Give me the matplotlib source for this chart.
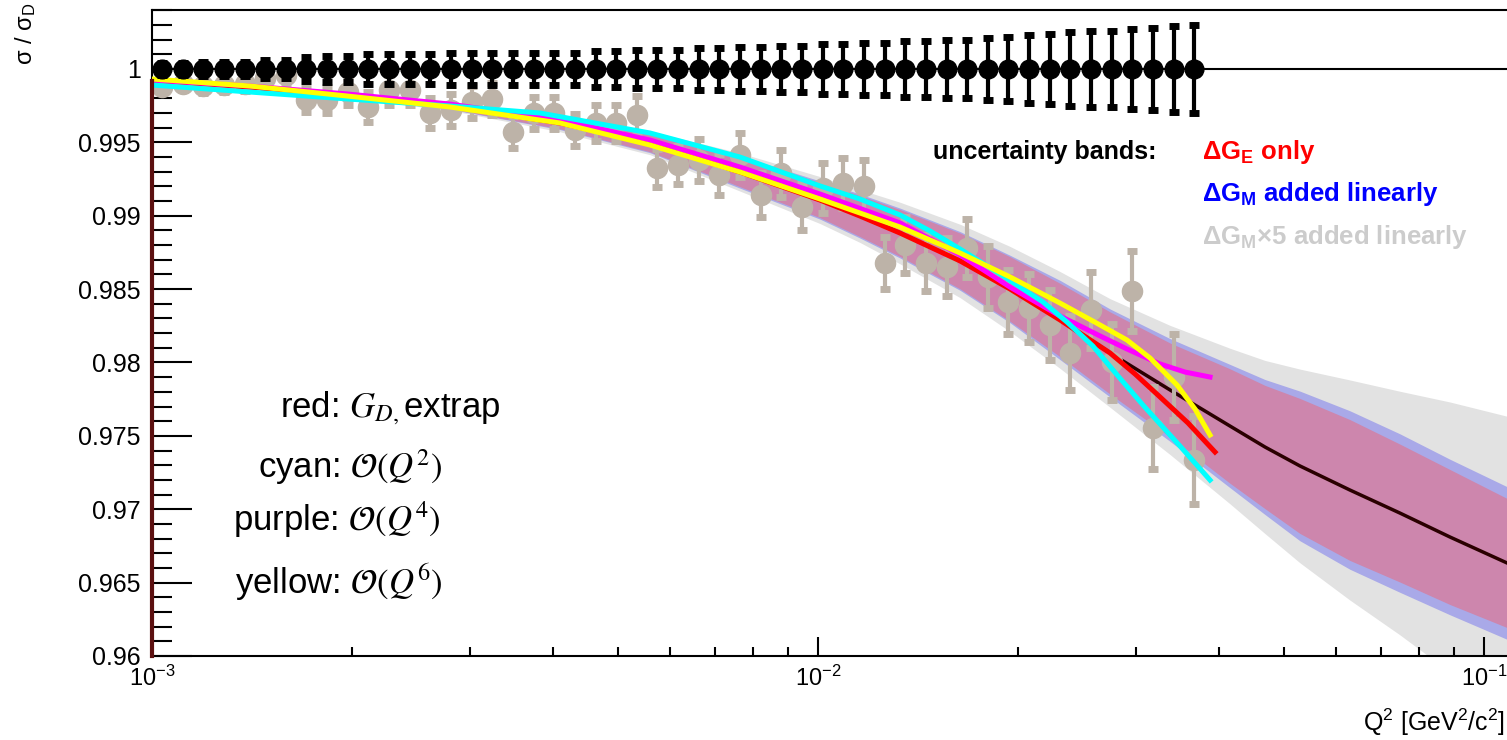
import matplotlib
matplotlib.use("Agg")
import matplotlib.pyplot as plt
from matplotlib.ticker import MultipleLocator, FixedLocator, FormatStrFormatter, LogLocator, NullFormatter

plt.rcParams['font.family'] = ['Liberation Sans', 'DejaVu Sans']
plt.rcParams['mathtext.fontset'] = 'custom'
plt.rcParams['mathtext.rm'] = 'Liberation Sans'
plt.rcParams['mathtext.it'] = 'Liberation Sans:italic'
plt.rcParams['mathtext.bf'] = 'Liberation Sans:bold'

# Q^2 bins of the pseudo data (GeV^2/c^2)
q2_bins = [0.001035, 0.001112, 0.001194, 0.001282, 0.001377, 0.001479, 0.001588, 0.001706,
           0.001832, 0.001968, 0.002113, 0.002270, 0.002438, 0.002618, 0.002812, 0.003020,
           0.003243, 0.003483, 0.003741, 0.004018, 0.004315, 0.004634, 0.004977, 0.005346,
           0.005741, 0.006166, 0.006622, 0.007112, 0.007638, 0.008204, 0.008811, 0.009463,
           0.01016, 0.01092, 0.01172, 0.01259, 0.01352, 0.01452, 0.01560, 0.01675,
           0.01799, 0.01932, 0.02075, 0.02229, 0.02394, 0.02571, 0.02761, 0.02965,
           0.03185, 0.03420, 0.03673]
err_data = [0.0004, 0.0004, 0.0005, 0.0005, 0.0005, 0.0006, 0.0006,
            0.0008, 0.0009, 0.0009, 0.0010, 0.0010, 0.0010, 0.0010, 0.0011, 0.0011, 0.0011,
            0.0011, 0.0011, 0.0011,
            0.0011, 0.0012, 0.0012, 0.0013, 0.0013, 0.0013, 0.0014, 0.0014, 0.0015, 0.0015,
            0.0016, 0.0016, 0.0017, 0.0017, 0.0018, 0.0018, 0.0019, 0.0019, 0.0020, 0.0020, 0.0021,
            0.0022, 0.0023, 0.0024, 0.0025, 0.0026, 0.0026, 0.0027, 0.0028, 0.0029, 0.0030]
ratio_ref = [1.0] * len(q2_bins)
ratio_pseudo = [0.99877, 0.99898, 0.99884, 0.99890, 0.99898, 0.99939, 0.99959, 0.99789,
                0.99789, 0.99843, 0.99741, 0.99857, 0.99857, 0.99700, 0.99720, 0.99775,
                0.99796, 0.99571, 0.99700, 0.99700, 0.99584, 0.99632, 0.99632, 0.99687,
                0.99325, 0.99346, 0.99380, 0.99278, 0.99414, 0.99141, 0.99291, 0.99060,
                0.99189, 0.99223, 0.99203, 0.98678, 0.98801, 0.98678, 0.98651, 0.98780,
                0.98583, 0.98412, 0.98371, 0.98256, 0.98065, 0.98358, 0.98003, 0.98487,
                0.97554, 0.97901, 0.97336]

# central G_D curve and uncertainty bands (half widths)
q2_c = [0.001, 0.0014034, 0.0019628, 0.0028023, 0.0040993, 0.0055937, 0.007636, 0.010069,
        0.011562, 0.013282, 0.016344, 0.019423, 0.023088, 0.027445, 0.033772, 0.041555,
        0.046905, 0.052925, 0.062907, 0.074777, 0.088883, 0.10828]
ratio_c = [0.99925, 0.99877, 0.99823, 0.99748, 0.99632, 0.99496, 0.99298, 0.99107,
           0.98998, 0.98882, 0.98692, 0.98501, 0.98290, 0.98065, 0.97813, 0.97567,
           0.97424, 0.97295, 0.97131, 0.96974, 0.96811, 0.96634]
band_ge = [0.00003, 0.00008, 0.00014, 0.0002, 0.0004, 0.0006, 0.0010, 0.0012, 0.0014, 0.0016, 0.0019,
           0.0022, 0.0025, 0.0028, 0.0032, 0.0039, 0.0042, 0.0046, 0.0048, 0.0047, 0.0046, 0.0044]
band_gm = [0.00004, 0.0001, 0.00016, 0.00023, 0.00045, 0.00066, 0.0011, 0.0013, 0.0015, 0.0017, 0.0020,
           0.0023, 0.0027, 0.0030, 0.0035, 0.0042, 0.0046, 0.0051, 0.0054, 0.0054, 0.0053, 0.0052]
band_gm5 = [0.00006, 0.00013, 0.0002, 0.0003, 0.0006, 0.0008, 0.0013, 0.0016, 0.0018, 0.0021, 0.0025,
            0.0029, 0.0033, 0.0037, 0.0044, 0.0053, 0.0059, 0.0066, 0.0075, 0.0083, 0.0092, 0.0100]

# fits to the pseudo data
q2_red = q2_c[:14] + [0.029921, 0.032626, 0.035938, 0.039457]
ratio_red = ratio_c[:14] + [0.97922, 0.97765, 0.97588, 0.97390]
q2_cyan = [0.001, 0.0014034, 0.0019628, 0.0028023, 0.0038247, 0.0055937, 0.007636, 0.010069,
           0.011562, 0.013282, 0.014733, 0.016344, 0.018763, 0.021769, 0.023654, 0.025870,
           0.028217, 0.030759, 0.034954, 0.038782]
ratio_cyan = [0.99891, 0.99843, 0.99796, 0.99748, 0.99700, 0.99564, 0.99400, 0.99203,
              0.99114, 0.99005, 0.98896, 0.98773, 0.98603, 0.98412, 0.98276, 0.98112,
              0.97908, 0.97710, 0.97431, 0.97199]
q2_mag = [0.001, 0.0014034, 0.0019628, 0.0028023, 0.0040993, 0.0055937, 0.007636, 0.010069,
          0.013282, 0.016344, 0.019423, 0.023088, 0.026508, 0.029106, 0.032626, 0.035567, 0.038782]
ratio_mag = [0.99925, 0.99884, 0.99830, 0.99761, 0.99652, 0.99516, 0.99332, 0.99148,
             0.98951, 0.98733, 0.98514, 0.98317, 0.98181, 0.98092, 0.97990, 0.97935, 0.97901]
q2_yel = [0.001, 0.0014034, 0.0019628, 0.0028023, 0.0040993, 0.0055937, 0.007636, 0.010069,
          0.013282, 0.016344, 0.019423, 0.023088, 0.026508, 0.029106, 0.031513, 0.034597,
          0.036819, 0.038782]
ratio_yel = [0.99932, 0.99884, 0.99816, 0.99741, 0.99632, 0.99482, 0.99298, 0.99114,
             0.98923, 0.98746, 0.98583, 0.98405, 0.98256, 0.98153, 0.98031, 0.97847,
             0.97683, 0.97506]

fig = plt.figure(figsize=(15.07, 7.40), dpi=100)
ax = fig.add_axes([152 / 1507, 1 - 656 / 740, 1 - 152 / 1507, (656 - 10.3) / 740])

lo = lambda b: [c - h for c, h in zip(ratio_c, b)]
hi = lambda b: [c + h for c, h in zip(ratio_c, b)]
ax.fill_between(q2_c, lo(band_gm5), hi(band_gm5), color='#e2e2e2', lw=0, zorder=1)
ax.fill_between(q2_c, lo(band_gm), hi(band_gm), color='#a9a9e8', lw=0, zorder=1.1)
ax.fill_between(q2_c, lo(band_ge), hi(band_ge), color='#cd86ad', lw=0, zorder=1.2)
ax.plot(q2_c, ratio_c, color='#2a0000', lw=2.5, zorder=2)

ax.errorbar(q2_bins, ratio_pseudo, yerr=err_data, fmt='o', color='#bdb3a8', ms=14.5,
            elinewidth=3, capsize=3.5, capthick=5, zorder=3)

ax.plot(q2_red, ratio_red, color='#ff0000', lw=3.6, zorder=4)
ax.plot(q2_mag, ratio_mag, color='#ff00ff', lw=3.6, zorder=4.1)
ax.plot(q2_cyan, ratio_cyan, color='#00ffff', lw=3.6, zorder=4.2)
ax.plot(q2_yel, ratio_yel, color='#ffff00', lw=3.6, zorder=4.3)

ax.axhline(1.0, color='black', lw=1.5, zorder=5)
ax.errorbar(q2_bins, ratio_ref, yerr=err_data, fmt='o', color='black', ms=13.5,
            elinewidth=3, capsize=3.5, capthick=5, zorder=6)
ax.plot([1e-3, 1e-3], [0.96, 0.9992], color='#5c1010', lw=3, clip_on=False, zorder=7)

ax.set_xscale('log')
ax.set_xlim(1e-3, 0.10828)
ax.set_ylim(0.96, 1.004)
ax.yaxis.set_major_locator(FixedLocator([0.96, 0.965, 0.97, 0.975, 0.98, 0.985, 0.99, 0.995, 1.0]))
ax.yaxis.set_minor_locator(MultipleLocator(0.001))
ax.yaxis.set_major_formatter(FormatStrFormatter('%g'))
ax.xaxis.set_major_locator(LogLocator(base=10))
ax.xaxis.set_minor_locator(LogLocator(base=10, subs=[2, 3, 4, 5, 6, 7, 8, 9]))
ax.xaxis.set_minor_formatter(NullFormatter())
ax.tick_params(axis='y', which='major', direction='in', length=28.8, width=1.5, labelsize=18, pad=8)
ax.tick_params(axis='y', which='minor', direction='in', length=14.4, width=1.5)
ax.tick_params(axis='x', which='major', direction='in', length=13.7, width=1.5, labelsize=17, pad=7)
ax.tick_params(axis='x', which='minor', direction='in', length=6.8, width=1.5)
for s in ['left', 'bottom', 'top']:
    ax.spines[s].set_linewidth(1.5)
ax.spines['right'].set_visible(False)

fig.text(1505 / 1507, 1 - 722 / 740, r'Q$^{2}$ [GeV$^{2}$/c$^{2}$]', ha='right', va='center', fontsize=18)
fig.text(26 / 1507, 1 - 3 / 740, r'σ / σ$_{\mathrm{D}}$', rotation=90, ha='center', va='top', fontsize=17)

fig.text(933 / 1507, 1 - 152 / 740, 'uncertainty bands:', ha='left', va='center', fontsize=18, weight='bold')
fig.text(1202 / 1507, 1 - 152 / 740, r'$\mathbf{\Delta G}_{\mathbf{E}}$ only', ha='left', va='center',
         fontsize=18.5, weight='bold', color='#ff0000')
fig.text(1202 / 1507, 1 - 194 / 740, r'$\mathbf{\Delta G}_{\mathbf{M}}$ added linearly', ha='left', va='center',
         fontsize=18.5, weight='bold', color='#0000ff')
fig.text(1202 / 1507, 1 - 237 / 740, r'$\mathbf{\Delta G}_{\mathbf{M}}$×5 added linearly', ha='left', va='center',
         fontsize=18.5, weight='bold', color='#cccccc')

fig.text(280 / 1507, 1 - 417 / 740, r'red: $G_{D,}$extrap', ha='left', va='baseline', fontsize=25,
         math_fontfamily='stix')
fig.text(258 / 1507, 1 - 478 / 740, r'cyan: $\mathcal{O}(Q^{2})$', ha='left', va='baseline', fontsize=25,
         math_fontfamily='stix')
fig.text(233 / 1507, 1 - 531 / 740, r'purple: $\mathcal{O}(Q^{4})$', ha='left', va='baseline', fontsize=25,
         math_fontfamily='stix')
fig.text(235 / 1507, 1 - 594 / 740, r'yellow: $\mathcal{O}(Q^{6})$', ha='left', va='baseline', fontsize=25,
         math_fontfamily='stix')

fig.savefig('out.png', dpi=100)
